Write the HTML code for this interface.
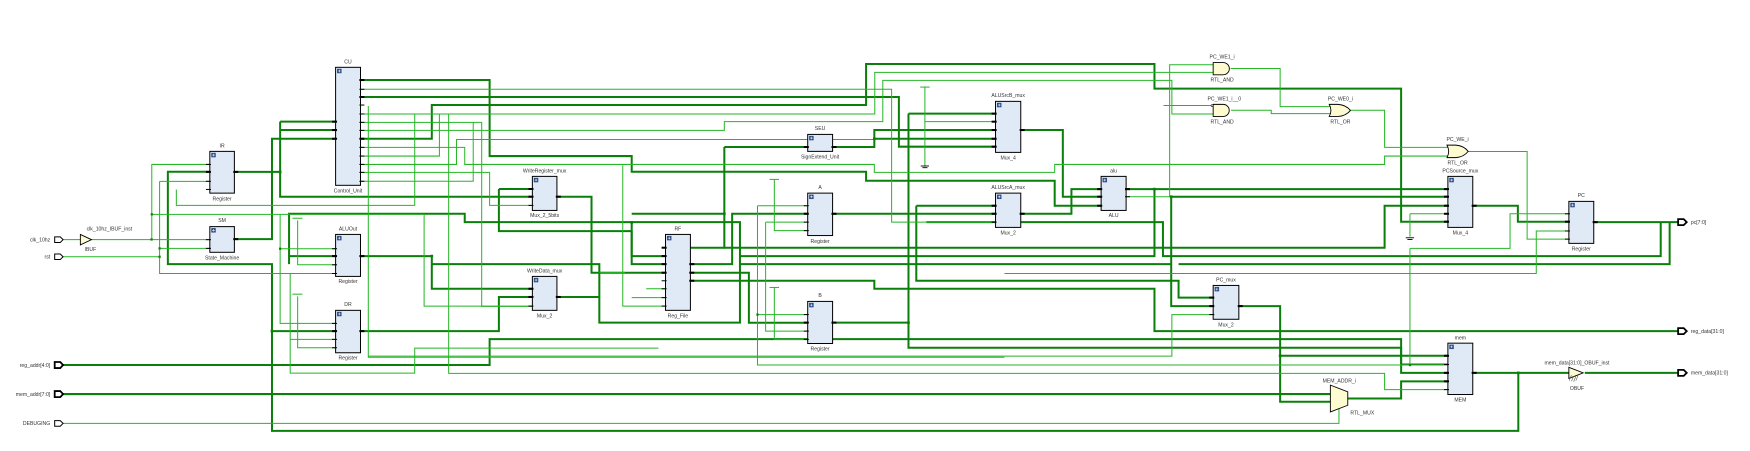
<!DOCTYPE html>
<html><head><meta charset="utf-8"><style>
html,body{margin:0;padding:0;background:#fff;}
svg{display:block}
text{font-family:"Liberation Sans",sans-serif;font-size:4.6px;fill:#333;}
.k{fill:none;stroke:#0a800a;stroke-width:1.8;}
.t{fill:none;stroke:#26b526;stroke-width:0.9;}
.b{fill:#e0eaf7;stroke:#000;stroke-width:0.9;}
.g{fill:#fffbd0;stroke:#000;stroke-width:0.8;}
.p{stroke:#000;stroke-width:0.9;}
.pk{stroke:#000;stroke-width:1.8;}
.ic{fill:#2c4a86;}
.d{fill:#0a800a;}
</style></head><body>
<svg width="1750" height="451" viewBox="0 0 1568 404" preserveAspectRatio="none" xmlns="http://www.w3.org/2000/svg">
<g class="k">
<polyline points="323,71.7 438.7,71.7 438.7,139.8 566,139.8 566,153.8 776,153.8 776,161.9 945,161.9 945,184.3 987,184.3"/>
<polyline points="323,86.9 805.4,86.9 805.4,131.4 892,131.4"/>
<polyline points="323,124.3 386.9,124.3 386.9,94.1 776,94.1 776,57.3 1034.4,57.3 1034.4,79.4 1255.4,79.4 1255.4,198.6 1297,198.6"/>
<polyline points="1320,334 1360.4,334 1360.4,386 243.7,386 243.7,236.6 150.4,236.6 150.4,153.8 188,153.8"/>
<polyline points="1360.4,334 1405.7,334"/>
<polyline points="243.7,296.6 300.7,296.6"/>
<polyline points="210,214.2 243.7,214.2 243.7,124.3 300.7,124.3"/>
<polyline points="210,154 251,154"/>
<polyline points="251,109 251,176.2 477,176.2"/>
<polyline points="251,109 300.7,109"/><polyline points="251,116.5 300.7,116.5"/>
<polyline points="447,169.3 477,169.3"/><polyline points="447,169.3 447,207 566,207"/>
<polyline points="259,236.6 259,191.5 416.4,191.5 416.4,199 566,199 566,236.6 596.3,236.6"/>
<polyline points="566,191.5 649,191.5"/>
<polyline points="566,207 566,229.4 596.3,229.4"/>
<polyline points="259,229.4 300.7,229.4"/>
<polyline points="323,229.4 386.9,229.4 386.9,258.7 477,258.7"/>
<polyline points="386.9,236.6 537,236.6 537,289 663,289 663,199 566,199"/>
<polyline points="499,176.2 530,176.2 530,244.3 596.3,244.3"/>
<polyline points="499,266 537,266"/>
<polyline points="323,296.6 447,296.6 447,266 477,266"/>
<polyline points="56,327 438.7,327 438.7,303.8 1255.4,303.8 1255.4,326.5 1297,326.5"/>
<polyline points="56,353 1192,353"/>
<polyline points="649,131.7 723.7,131.7"/>
<polyline points="649,131.7 649,221.9 1240.6,221.9 1240.6,184.3 1297,184.3"/>
<polyline points="649,221.9 596.3,221.9"/>
<polyline points="618.6,236.6 656,236.6 656,191.5 723.7,191.5"/>
<polyline points="746,191.5 892,191.5"/>
<polyline points="618.6,244.3 671,244.3 671,289.1 723.7,289.1"/>
<polyline points="746,289 814,289"/>
<polyline points="814,101.8 814,311.5 1255.4,311.5 1255.4,334 1297,334"/>
<polyline points="814,101.8 892,101.8"/>
<polyline points="618.6,251.5 783.4,251.5 783.4,258.7 1034.4,258.7 1034.4,296.6 1503.6,296.6"/>
<polyline points="746,131.7 783.4,131.7 783.4,116.5 892,116.5"/><polyline points="783.4,124.3 892,124.3"/>
<polyline points="914.6,116.5 952.3,116.5 952.3,176.2 986.6,176.2"/>
<polyline points="914.6,191.5 960,191.5 960,169.4 986.6,169.4"/>
<polyline points="1009,169.4 1297,169.4"/>
<polyline points="1034.4,169.4 1034.4,229.4 663,229.4"/>
<polyline points="1049.4,176.2 1297,176.2"/><polyline points="1049.4,176.2 1049.4,274.2 1087,274.2"/>
<polyline points="663,236.6 1049.4,236.6"/>
<polyline points="821,184.3 821,251.5 1056,251.5 1056,266.6 1087,266.6"/>
<polyline points="821,184.3 892,184.3"/>
<polyline points="830,199 1042,199 1042,229.4 1488,229.4 1488,199"/>
<polyline points="1056,236.6 1496,236.6 1496,199"/>
<polyline points="1110,274.2 1147,274.2 1147,359.9 1192,359.9"/><polyline points="1147,318.7 1297,318.7"/>
<polyline points="1207.6,357 1255.4,357 1255.4,341.6 1297,341.6"/>
<polyline points="1319.6,184.3 1360,184.3 1360,198.6 1405.7,198.6"/>
<polyline points="1428,199 1503.6,199"/>
<polyline points="1420,334 1503.6,334"/>
</g>
<g class="t">
<polyline points="56,214.7 72,214.7"/><polyline points="82,214.7 188,214.7"/>
<polyline points="136,214.7 136,147.3 188,147.3"/>
<polyline points="136,192 251,192 251,289.7 300.7,289.7"/><polyline points="251,222.8 300.7,222.8"/>
<polyline points="251,192 380,192 380,274.2 477,274.2"/>
<polyline points="56,230 143,230"/>
<polyline points="143,162.5 143,245 260,245 260,334.2 371.6,334.2 371.6,311.8 590,311.8"/>
<polyline points="143,162.5 188,162.5"/><polyline points="143,222.5 188,222.5"/>
<polyline points="260,245 300.7,245"/><polyline points="260,304 300.7,304"/>
<polyline points="158,169.7 158,184 371.6,184 371.6,102.1 323,102.1"/>
<polyline points="266.7,197.4 266.7,237.2 300.7,237.2"/><polyline points="266.7,265.5 266.7,311.5 300.7,311.5"/>
<polyline points="262,195.5 271,195.5"/><polyline points="262,263.5 271,263.5"/>
<polyline points="323,80 798.9,80 798.9,199 892,199"/>
<polyline points="323,102.1 783.8,102.1 783.8,64.8 1087,64.8"/>
<polyline points="323,116.8 649,116.8 649,109 791,109 791,72 1050,72 1050,102.1 1087,102.1"/>
<polyline points="323,109.6 431.6,109.6 431.6,274.5 477,274.5"/>
<polyline points="323,132 416.4,132 416.4,147.3 783.4,147.3 783.4,154.4 945,154.4 945,147.3 1240.6,147.3 1240.6,139.8 1297.6,139.8"/>
<polyline points="323,139.8 393.7,139.8 393.7,102.1"/>
<polyline points="323,147.3 409,147.3 409,125 800,125"/>
<polyline points="323,154.4 438.7,154.4 438.7,184 477,184"/>
<polyline points="323,162.4 424,162.4 424,110 425,110"/>
<polyline points="330,95 330,320 900,320"/>
<polyline points="402,102 402,334.5 1240.6,334.5 1240.6,349 1297,349"/>
<polyline points="558,148 558,274.2 596.3,274.2"/>
<polyline points="537,244 560,244"/>
<polyline points="566,266.6 596.3,266.6"/>
<polyline points="579,258.7 596.3,258.7"/>
<polyline points="678.7,184.3 723.7,184.3"/><polyline points="678.7,184.3 678.7,327 1263.3,327"/>
<polyline points="678.7,281.8 723.7,281.8"/>
<polyline points="686,199 723.7,199"/><polyline points="686,199 686,296.6 723.7,296.6"/>
<polyline points="693.8,160.7 693.8,206.6 723.7,206.6"/><polyline points="689.5,160.7 698,160.7"/>
<polyline points="693.8,257.5 693.8,304 723.7,304"/><polyline points="689.5,257.5 698,257.5"/>
<polyline points="828.7,78 828.7,148.7"/><polyline points="824.5,78 833,78"/>
<polyline points="828.7,109 892,109"/>
<polyline points="1009,176.2 1048,176.2 1048,58 1087,58"/>
<polyline points="1042.5,94.5 1087,94.5"/>
<polyline points="1102.6,61.4 1147,61.4 1147,95.5 1192,95.5"/>
<polyline points="1103,98.8 1139,98.8 1139,101.8 1192,101.8"/>
<polyline points="1209,98.8 1240.6,98.8 1240.6,132 1297.6,132"/>
<polyline points="1314.7,135.7 1368.3,135.7 1368.3,214.2 1405.7,214.2"/>
<polyline points="1263.3,191.5 1297,191.5"/><polyline points="1263.3,191.5 1263.3,212"/>
<polyline points="1263.3,222.5 1353,222.5 1353,191.5 1405.7,191.5"/>
<polyline points="1263.3,222.5 1263.3,327 1297,327"/>
<polyline points="900,245 1376.5,245 1376.5,206.9 1405.7,206.9"/>
<polyline points="56,379.3 1199.7,379.3 1199.7,366"/>
<polyline points="330,319 1050,319 1050,281.8 1087,281.8"/>
</g>
<g stroke="#000" stroke-width="0.8">
<line x1="825" y1="148.7" x2="832.4" y2="148.7"/><line x1="826.5" y1="150.2" x2="831" y2="150.2"/>
<line x1="1259.5" y1="213" x2="1267" y2="213"/><line x1="1261" y1="214.5" x2="1265.6" y2="214.5"/>
</g>
<g class="d">
<rect x="249.8" y="152.8" width="2.4" height="2.4"/><rect x="385.7" y="228.2" width="2.4" height="2.4"/>
<rect x="242.5" y="295.4" width="2.4" height="2.4"/><rect x="647.8" y="190.3" width="2.4" height="2.4"/>
<rect x="564.8" y="198" width="2.4" height="2.4"/><rect x="782.2" y="123.1" width="2.4" height="2.4"/>
<rect x="812.8" y="287.8" width="2.4" height="2.4"/><rect x="1033.2" y="168.2" width="2.4" height="2.4"/>
<rect x="1048.2" y="175" width="2.4" height="2.4"/><rect x="1145.8" y="317.5" width="2.4" height="2.4"/>
<rect x="1359.2" y="332.8" width="2.4" height="2.4"/><rect x="134.8" y="213.5" width="2" height="2"/>
<rect x="135" y="191" width="2" height="2"/><rect x="142" y="229" width="2" height="2"/>
<rect x="142" y="221.5" width="2" height="2"/><rect x="250" y="221.8" width="2" height="2"/>
<rect x="1262.3" y="326" width="2" height="2"/><rect x="677.7" y="280.8" width="2" height="2"/>
</g>
<g>
<rect class="b" x="300.7" y="60.3" width="22.3" height="105.7"/><rect class="ic" x="302" y="61.6" width="4" height="4"/>
<g class="pk"><line x1="297.5" y1="109" x2="302" y2="109"/><line x1="297.5" y1="116.5" x2="302" y2="116.5"/><line x1="297.5" y1="124.3" x2="302" y2="124.3"/>
<line x1="322" y1="71.7" x2="326.5" y2="71.7"/><line x1="322" y1="86.9" x2="326.5" y2="86.9"/><line x1="322" y1="124.3" x2="326.5" y2="124.3"/></g>
<g class="p"><line x1="322" y1="80" x2="326.5" y2="80"/><line x1="322" y1="94.1" x2="326.5" y2="94.1"/><line x1="322" y1="102.1" x2="326.5" y2="102.1"/><line x1="322" y1="109.6" x2="326.5" y2="109.6"/><line x1="322" y1="116.8" x2="326.5" y2="116.8"/><line x1="322" y1="132" x2="326.5" y2="132"/><line x1="322" y1="139.8" x2="326.5" y2="139.8"/><line x1="322" y1="147.3" x2="326.5" y2="147.3"/><line x1="322" y1="154.4" x2="326.5" y2="154.4"/><line x1="322" y1="162.4" x2="326.5" y2="162.4"/></g>
<text x="311.8" y="57" text-anchor="middle">CU</text><text x="311.8" y="172.5" text-anchor="middle">Control_Unit</text>
<rect class="b" x="188" y="135.6" width="22" height="37.4"/><rect class="ic" x="189.3" y="136.9" width="4" height="4"/>
<g class="p"><line x1="184.5" y1="147.3" x2="189" y2="147.3"/><line x1="184.5" y1="162.4" x2="189" y2="162.4"/><line x1="184.5" y1="169.7" x2="189" y2="169.7"/></g>
<g class="pk"><line x1="184.5" y1="154" x2="189" y2="154"/><line x1="209" y1="154" x2="213.5" y2="154"/></g>
<text x="199" y="132" text-anchor="middle">IR</text><text x="199" y="179.5" text-anchor="middle">Register</text>
<rect class="b" x="188" y="203" width="22" height="23"/><rect class="ic" x="189.3" y="204.3" width="4" height="4"/>
<g class="p"><line x1="184.5" y1="214.7" x2="189" y2="214.7"/><line x1="184.5" y1="222.5" x2="189" y2="222.5"/></g>
<g class="pk"><line x1="209" y1="214.2" x2="213.5" y2="214.2"/></g>
<text x="199" y="199" text-anchor="middle">SM</text><text x="199" y="232.5" text-anchor="middle">State_Machine</text>
<rect class="b" x="300.7" y="210" width="22.3" height="37.6"/><rect class="ic" x="302" y="211.3" width="4" height="4"/>
<g class="p"><line x1="297.5" y1="222.8" x2="302" y2="222.8"/><line x1="297.5" y1="237.2" x2="302" y2="237.2"/><line x1="297.5" y1="245" x2="302" y2="245"/></g>
<g class="pk"><line x1="297.5" y1="229.4" x2="302" y2="229.4"/><line x1="322" y1="229.4" x2="326.5" y2="229.4"/></g>
<text x="311.8" y="206.5" text-anchor="middle">ALUOut</text><text x="311.8" y="253.5" text-anchor="middle">Register</text>
<rect class="b" x="300.7" y="278" width="22.3" height="38"/><rect class="ic" x="302" y="279.3" width="4" height="4"/>
<g class="p"><line x1="297.5" y1="289.7" x2="302" y2="289.7"/><line x1="297.5" y1="304" x2="302" y2="304"/><line x1="297.5" y1="311.5" x2="302" y2="311.5"/></g>
<g class="pk"><line x1="297.5" y1="296.6" x2="302" y2="296.6"/><line x1="322" y1="296.6" x2="326.5" y2="296.6"/></g>
<text x="311.8" y="274" text-anchor="middle">DR</text><text x="311.8" y="322" text-anchor="middle">Register</text>
<rect class="b" x="477" y="158" width="22" height="30.5"/><rect class="ic" x="478.3" y="159.3" width="4" height="4"/>
<g class="pk"><line x1="473.5" y1="169.3" x2="478" y2="169.3"/><line x1="473.5" y1="176.2" x2="478" y2="176.2"/><line x1="498" y1="176.2" x2="502.5" y2="176.2"/></g>
<g class="p"><line x1="473.5" y1="184" x2="478" y2="184"/></g>
<text x="488" y="154.5" text-anchor="middle">WriteRegister_mux</text><text x="488" y="194.5" text-anchor="middle">Mux_2_5bits</text>
<rect class="b" x="477" y="247.6" width="22" height="30.4"/><rect class="ic" x="478.3" y="248.9" width="4" height="4"/>
<g class="pk"><line x1="473.5" y1="258.7" x2="478" y2="258.7"/><line x1="473.5" y1="266" x2="478" y2="266"/><line x1="498" y1="266" x2="502.5" y2="266"/></g>
<g class="p"><line x1="473.5" y1="274.2" x2="478" y2="274.2"/></g>
<text x="488" y="244" text-anchor="middle">WriteData_mux</text><text x="488" y="284.5" text-anchor="middle">Mux_2</text>
<rect class="b" x="723.7" y="120.4" width="22.3" height="15.2"/><rect class="ic" x="725" y="121.7" width="4" height="4"/>
<g class="pk"><line x1="720.2" y1="131.7" x2="724.7" y2="131.7"/><line x1="745" y1="131.7" x2="749.5" y2="131.7"/></g>
<text x="734.8" y="116.5" text-anchor="middle">SEU</text><text x="734.8" y="142.2" text-anchor="middle">SignExtend_Unit</text>
<rect class="b" x="723.7" y="173" width="22.3" height="38"/><rect class="ic" x="725" y="174.3" width="4" height="4"/>
<g class="p"><line x1="720.2" y1="184.3" x2="724.7" y2="184.3"/><line x1="720.2" y1="199" x2="724.7" y2="199"/><line x1="720.2" y1="206.6" x2="724.7" y2="206.6"/></g>
<g class="pk"><line x1="720.2" y1="191.5" x2="724.7" y2="191.5"/><line x1="745" y1="191.5" x2="749.5" y2="191.5"/></g>
<text x="734.8" y="169.5" text-anchor="middle">A</text><text x="734.8" y="217.5" text-anchor="middle">Register</text>
<rect class="b" x="723.7" y="270" width="22.3" height="37.7"/><rect class="ic" x="725" y="271.3" width="4" height="4"/>
<g class="p"><line x1="720.2" y1="281.8" x2="724.7" y2="281.8"/><line x1="720.2" y1="296.6" x2="724.7" y2="296.6"/><line x1="720.2" y1="304" x2="724.7" y2="304"/></g>
<g class="pk"><line x1="720.2" y1="289" x2="724.7" y2="289"/><line x1="745" y1="289" x2="749.5" y2="289"/></g>
<text x="734.8" y="266" text-anchor="middle">B</text><text x="734.8" y="314" text-anchor="middle">Register</text>
<rect class="b" x="596.3" y="210" width="22.3" height="68"/><rect class="ic" x="597.6" y="211.3" width="4" height="4"/>
<g class="pk"><line x1="592.8" y1="221.9" x2="597.3" y2="221.9"/><line x1="592.8" y1="229.4" x2="597.3" y2="229.4"/><line x1="592.8" y1="236.6" x2="597.3" y2="236.6"/><line x1="592.8" y1="244.3" x2="597.3" y2="244.3"/>
<line x1="617.6" y1="236.6" x2="622.1" y2="236.6"/><line x1="617.6" y1="244.3" x2="622.1" y2="244.3"/><line x1="617.6" y1="251.5" x2="622.1" y2="251.5"/></g>
<g class="p"><line x1="592.8" y1="251.5" x2="597.3" y2="251.5"/><line x1="592.8" y1="258.7" x2="597.3" y2="258.7"/><line x1="592.8" y1="266.6" x2="597.3" y2="266.6"/><line x1="592.8" y1="274.2" x2="597.3" y2="274.2"/></g>
<text x="607.4" y="206.5" text-anchor="middle">RF</text><text x="607.4" y="284.5" text-anchor="middle">Reg_File</text>
<rect class="b" x="892" y="90.8" width="22.6" height="45.7"/><rect class="ic" x="893.3" y="92.1" width="4" height="4"/>
<g class="pk"><line x1="888.5" y1="101.8" x2="893" y2="101.8"/><line x1="888.5" y1="109" x2="893" y2="109"/><line x1="888.5" y1="116.5" x2="893" y2="116.5"/><line x1="888.5" y1="124.3" x2="893" y2="124.3"/><line x1="888.5" y1="131.4" x2="893" y2="131.4"/><line x1="913.6" y1="116.5" x2="918.1" y2="116.5"/></g>
<text x="903.3" y="87" text-anchor="middle">ALUSrcB_mux</text><text x="903.3" y="143" text-anchor="middle">Mux_4</text>
<rect class="b" x="892" y="173" width="22.6" height="30.7"/><rect class="ic" x="893.3" y="174.3" width="4" height="4"/>
<g class="pk"><line x1="888.5" y1="184.3" x2="893" y2="184.3"/><line x1="888.5" y1="191.5" x2="893" y2="191.5"/><line x1="913.6" y1="191.5" x2="918.1" y2="191.5"/></g>
<g class="p"><line x1="888.5" y1="199" x2="893" y2="199"/></g>
<text x="903.3" y="169.5" text-anchor="middle">ALUSrcA_mux</text><text x="903.3" y="210" text-anchor="middle">Mux_2</text>
<rect class="b" x="986.6" y="158" width="22.4" height="30.5"/><rect class="ic" x="987.9" y="159.3" width="4" height="4"/>
<g class="pk"><line x1="983.1" y1="169.4" x2="987.6" y2="169.4"/><line x1="983.1" y1="176.2" x2="987.6" y2="176.2"/><line x1="983.1" y1="184.3" x2="987.6" y2="184.3"/><line x1="1008" y1="169.4" x2="1012.5" y2="169.4"/></g>
<g class="p"><line x1="1008" y1="176.2" x2="1012.5" y2="176.2"/></g>
<text x="997.8" y="154.5" text-anchor="middle">alu</text><text x="997.8" y="194.5" text-anchor="middle">ALU</text>
<rect class="b" x="1297.3" y="158" width="22.3" height="45.7"/><rect class="ic" x="1298.6" y="159.3" width="4" height="4"/>
<g class="pk"><line x1="1293.8" y1="169.4" x2="1298.3" y2="169.4"/><line x1="1293.8" y1="176.2" x2="1298.3" y2="176.2"/><line x1="1293.8" y1="184.3" x2="1298.3" y2="184.3"/><line x1="1293.8" y1="191.5" x2="1298.3" y2="191.5"/><line x1="1293.8" y1="198.6" x2="1298.3" y2="198.6"/><line x1="1318.6" y1="184.3" x2="1323.1" y2="184.3"/></g>
<text x="1308.5" y="154.5" text-anchor="middle">PCSource_mux</text><text x="1308.5" y="210" text-anchor="middle">Mux_4</text>
<rect class="b" x="1405.7" y="180.4" width="22.3" height="37.6"/><rect class="ic" x="1407" y="181.7" width="4" height="4"/>
<g class="p"><line x1="1402.2" y1="191.5" x2="1406.7" y2="191.5"/><line x1="1402.2" y1="206.9" x2="1406.7" y2="206.9"/><line x1="1402.2" y1="214.2" x2="1406.7" y2="214.2"/></g>
<g class="pk"><line x1="1402.2" y1="198.6" x2="1406.7" y2="198.6"/><line x1="1427" y1="199" x2="1431.5" y2="199"/></g>
<text x="1416.8" y="176.5" text-anchor="middle">PC</text><text x="1416.8" y="224.5" text-anchor="middle">Register</text>
<rect class="b" x="1087" y="255.7" width="23" height="30.3"/><rect class="ic" x="1088.3" y="257" width="4" height="4"/>
<g class="pk"><line x1="1083.5" y1="266.6" x2="1088" y2="266.6"/><line x1="1083.5" y1="274.2" x2="1088" y2="274.2"/><line x1="1109" y1="274.2" x2="1113.5" y2="274.2"/></g>
<g class="p"><line x1="1083.5" y1="281.8" x2="1088" y2="281.8"/></g>
<text x="1098.5" y="252" text-anchor="middle">PC_mux</text><text x="1098.5" y="292.5" text-anchor="middle">Mux_2</text>
<rect class="b" x="1297.3" y="307.4" width="22.3" height="46"/><rect class="ic" x="1298.6" y="308.7" width="4" height="4"/>
<g class="pk"><line x1="1293.8" y1="318.7" x2="1298.3" y2="318.7"/><line x1="1293.8" y1="334" x2="1298.3" y2="334"/><line x1="1293.8" y1="341.6" x2="1298.3" y2="341.6"/><line x1="1318.6" y1="334" x2="1323.1" y2="334"/></g>
<g class="p"><line x1="1293.8" y1="326.5" x2="1298.3" y2="326.5"/><line x1="1293.8" y1="349" x2="1298.3" y2="349"/></g>
<text x="1308.5" y="304" text-anchor="middle">mem</text><text x="1308.5" y="359.5" text-anchor="middle">MEM</text>
</g>
<g fill="#fff" stroke="#fff" stroke-width="0.5">
<path d="M302.8,63.6h2.4M304,62.4v2.4"/><path d="M190.1,138.9h2.4M191.3,137.7v2.4"/><path d="M190.1,206.3h2.4M191.3,205.1v2.4"/><path d="M302.8,213.3h2.4M304,212.1v2.4"/><path d="M302.8,281.3h2.4M304,280.1v2.4"/><path d="M479.1,161.3h2.4M480.3,160.1v2.4"/><path d="M479.1,250.9h2.4M480.3,249.7v2.4"/><path d="M725.8,123.7h2.4M727,122.5v2.4"/><path d="M725.8,176.3h2.4M727,175.1v2.4"/><path d="M725.8,273.3h2.4M727,272.1v2.4"/><path d="M598.4,213.3h2.4M599.6,212.1v2.4"/><path d="M894.1,94.1h2.4M895.3,92.9v2.4"/><path d="M894.1,176.3h2.4M895.3,175.1v2.4"/><path d="M988.7,161.3h2.4M989.9,160.1v2.4"/><path d="M1299.4,161.3h2.4M1300.6,160.1v2.4"/><path d="M1407.8,183.7h2.4M1409,182.5v2.4"/><path d="M1089.1,259h2.4M1090.3,257.8v2.4"/><path d="M1299.4,310.7h2.4M1300.6,309.5v2.4"/></g>
<path class="g" d="M1087,56 H1096 A5.5,5.5 0 0 1 1096,67 H1087 Z"/>
<path class="g" d="M1087,93.5 H1096 A5.4,5.4 0 0 1 1096,104.3 H1087 Z"/>
<circle cx="1086" cy="94.5" r="0.9" fill="#fff" stroke="#000" stroke-width="0.5"/>
<path class="g" d="M1191,93.5 H1199 Q1206,94 1210,98.9 Q1206,103.8 1199,104.3 H1191 Q1194,98.9 1191,93.5 Z"/>
<path class="g" d="M1296.5,130 H1304.5 Q1311.5,130.5 1315.5,135.6 Q1311.5,140.7 1304.5,141.2 H1296.5 Q1299.5,135.6 1296.5,130 Z"/>
<path class="g" d="M1192,345 L1207.6,351 L1207.6,363 L1192,369 Z"/>
<path class="g" d="M1405.7,329 L1418.5,334 L1405.7,339 Z"/>
<g stroke="#554" stroke-width="0.5"><line x1="1408" y1="336" x2="1406" y2="341"/><line x1="1410" y1="337" x2="1408" y2="341.5"/><line x1="1412" y1="337" x2="1410" y2="342"/><line x1="1414" y1="336" x2="1412" y2="341"/></g>
<path class="g" d="M72,210 L82,214.7 L72,219.4 Z"/>
<text x="1095" y="52.5" text-anchor="middle">PC_WE1_i</text><text x="1095" y="73" text-anchor="middle">RTL_AND</text>
<text x="1097" y="90" text-anchor="middle">PC_WE1_i__0</text><text x="1095" y="110.5" text-anchor="middle">RTL_AND</text>
<text x="1201" y="90" text-anchor="middle">PC_WE0_i</text><text x="1201" y="110.5" text-anchor="middle">RTL_OR</text>
<text x="1306" y="126.5" text-anchor="middle">PC_WE_i</text><text x="1306" y="147.3" text-anchor="middle">RTL_OR</text>
<text x="1200" y="342.5" text-anchor="middle">MEM_ADDR_i</text><text x="1210" y="371.5">RTL_MUX</text>
<text x="1413" y="326.5" text-anchor="middle">mem_data[31:0]_OBUF_inst</text><text x="1413" y="349.5" text-anchor="middle">OBUF</text>
<text x="98" y="206.5" text-anchor="middle">clk_10hz_IBUF_inst</text><text x="81" y="225" text-anchor="middle">IBUF</text>
<g fill="#fff" stroke="#000" stroke-width="0.9">
<path d="M49,212.2 H54 L56.5,214.7 L54,217.2 H49 Z"/>
<path d="M49,227.5 H54 L56.5,230 L54,232.5 H49 Z"/>
<path d="M49,324.3 H54 L56.5,327 L54,329.7 H49 Z" stroke-width="1.6"/>
<path d="M49,350.3 H54 L56.5,353 L54,355.7 H49 Z" stroke-width="1.6"/>
<path d="M49,376.8 H54 L56.5,379.3 L54,381.8 H49 Z"/>
<path d="M1503.6,196.3 H1508.6 L1511.3,199 L1508.6,201.7 H1503.6 Z" stroke-width="1.6"/>
<path d="M1503.6,293.9 H1508.6 L1511.3,296.6 L1508.6,299.3 H1503.6 Z" stroke-width="1.6"/>
<path d="M1503.6,331.3 H1508.6 L1511.3,334 L1508.6,336.7 H1503.6 Z" stroke-width="1.6"/>
</g>
<text x="45" y="216.3" text-anchor="end">clk_10hz</text>
<text x="45" y="231.6" text-anchor="end">rst</text>
<text x="45" y="328.6" text-anchor="end">reg_addr[4:0]</text>
<text x="45" y="354.6" text-anchor="end">mem_addr[7:0]</text>
<text x="45" y="380.9" text-anchor="end">DEBUGING</text>
<text x="1515" y="200.6">pc[7:0]</text>
<text x="1515" y="298.2">reg_data[31:0]</text>
<text x="1515" y="335.6">mem_data[31:0]</text>
</svg>
</body></html>
